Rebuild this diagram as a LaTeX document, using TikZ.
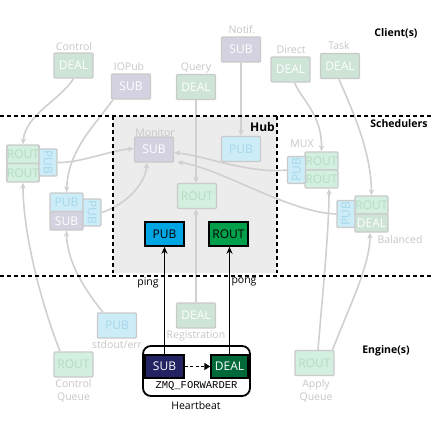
\documentclass[tikz,border=0pt]{standalone}
\usepackage{fontspec}
\setmainfont{Open Sans}
\newfontfamily\zmqmono{Liberation Mono}
\usetikzlibrary{arrows.meta}
\definecolor{fgray}{HTML}{CACACA}
\definecolor{conngray}{HTML}{D0D0D0}
\definecolor{lblgray}{HTML}{C6C6C6}
\definecolor{dealF}{HTML}{CDE4D6}
\definecolor{routF}{HTML}{D3EFDF}
\definecolor{routT}{HTML}{B5DCC4}
\definecolor{subF}{HTML}{D4D2E0}
\definecolor{pubF}{HTML}{CCECF8}
\definecolor{pubT}{HTML}{A6D7EB}
\definecolor{hubbg}{HTML}{EBECEB}
\definecolor{bpub}{HTML}{00A5E3}
\definecolor{brout}{HTML}{00A04A}
\definecolor{dsub}{HTML}{232262}
\definecolor{ddeal}{HTML}{00693A}
\tikzset{
 sock/.style={rectangle, draw=fgray, line width=1.4pt, rounded corners=1pt, minimum width=39pt, minimum height=25pt, inner sep=0pt, font=\fontsize{12}{12}\selectfont},
 fdeal/.style={sock, fill=dealF, text=white},
 frout/.style={sock, fill=routF, text=routT},
 fsub/.style={sock, fill=subF, text=white},
 fpub/.style={sock, fill=pubF, text=pubT},
 cellbox/.style={minimum width=33pt, minimum height=18.5pt},
 sidebox/.style={minimum width=27pt, minimum height=18pt},
 lbl/.style={text=lblgray, font=\fontsize{10.5}{13}\selectfont, inner sep=0pt, align=center},
 ttl/.style={font=\bfseries\fontsize{10.5}{11}\selectfont, inner sep=0pt},
 conn/.style={draw=conngray, line width=1.6pt, -{Stealth[length=6pt,width=5.5pt]}},
 hbarrow/.style={draw=black, line width=1.5pt, -{Stealth[length=7pt,width=6pt]}},
 sepline/.style={draw=black, line width=1.8pt, dash pattern=on 4pt off 3pt},
 bright/.style={rectangle, draw=black, line width=1.5pt, minimum width=39pt, minimum height=24pt, inner sep=0pt, font=\fontsize{12}{12}\selectfont},
}
\begin{document}
\begin{tikzpicture}[x=1pt,y=-1pt]
\useasboundingbox (0,0) rectangle (432,432);
% hub background
\fill[hubbg] (113,116) rectangle (277,273);

% top clients
\node[fdeal] (ctrl) at (73.5,65.5) {DEAL};
\node[lbl] (ctrlL) at (74,47) {Control};
\node[fsub] (iopub) at (131,86.5) {SUB};
\node[lbl] (iopubL) at (129,67) {IOPub};
\node[fdeal] (query) at (196,87) {DEAL};
\node[lbl] (queryL) at (196,68) {Query};
\node[fsub] (notif) at (241,49.5) {SUB};
\node[lbl] (notifL) at (242,30) {Notif.};
\node[fdeal] (direct) at (290.5,69.5) {DEAL};
\node[lbl] (directL) at (291,50) {Direct};
\node[fdeal] (task) at (340,66) {DEAL};
\node[lbl] (taskL) at (339,46) {Task};

% schedulers
\node[frout,cellbox,minimum width=32pt] (lr1) at (23,154.25) {ROUT};
\node[frout,cellbox,minimum width=32pt] (lr2) at (23,172.75) {ROUT};
\node[fpub,sidebox,rotate=-90] (lp) at (48,162.5) {PUB};

\node[fpub,cellbox] (sp1) at (66.5,202.25) {PUB};
\node[fsub,cellbox] (sp2) at (66.5,220.75) {SUB};
\node[fpub,sidebox,rotate=-90] (psp) at (92,212.5) {PUB};

\node[frout,cellbox,minimum height=18pt] (mr1) at (321.5,161) {ROUT};
\node[frout,cellbox,minimum height=18pt] (mr2) at (321.5,179) {ROUT};
\node[fpub,sidebox,rotate=90] (mp) at (296.5,170) {PUB};
\node[lbl] (muxL) at (302,144) {MUX};

\node[frout,cellbox,minimum height=18pt] (br1) at (371.5,205) {ROUT};
\node[fdeal,cellbox,minimum height=18pt] (br2) at (371.5,223) {DEAL};
\node[fpub,sidebox,rotate=90] (bp) at (346,214) {PUB};
\node[lbl] (balL) at (400,240) {Balanced};

% hub
\node[fsub] (monitor) at (154,149.5) {SUB};
\node[lbl] (monL) at (155,133) {Monitor};
\node[fpub] (hpub) at (241,149) {PUB};
\node[frout] (hrout) at (197,196) {ROUT};
\node[bright, fill=bpub] (hpubb) at (164.5,234) {PUB};
\node[bright, fill=brout] (hroutb) at (228.5,234) {ROUT};
\node[font=\bfseries\fontsize{12}{13}\selectfont, inner sep=0pt, anchor=east] (hubL) at (275,127) {Hub};

% engines
\node[fpub] (stdout) at (117,325.5) {PUB};
\node[lbl] (stdoutL) at (117,345) {stdout/err};
\node[fdeal] (reg) at (196,315.5) {DEAL};
\node[lbl] (regL) at (196,336) {Registration};
\node[frout] (ctrlq) at (73.5,364.5) {ROUT};
\node[lbl] (ctrlqL) at (73.5,391) {Control\\Queue};
\node[frout] (applyq) at (314.5,363) {ROUT};
\node[lbl] (applyqL) at (316,391) {Apply\\Queue};

% heartbeat
\node[draw=black, line width=1.8pt, rounded corners=8pt, fill=white, minimum width=107pt, minimum height=50pt, inner sep=0pt] (hbox) at (196.5,371) {};
\node[bright, fill=dsub, text=white, minimum height=23pt] (hbsub) at (164.5,366.5) {SUB};
\node[bright, fill=ddeal, text=white, minimum width=37pt, minimum height=23pt] (hbdeal) at (229.5,366.5) {DEAL};
\node[font=\zmqmono\fontsize{10.5}{11}\selectfont, inner sep=0pt] (zmq) at (196.5,386) {ZMQ\_FORWARDER};
\node[font=\fontsize{10.5}{11}\selectfont, inner sep=0pt] (hbL) at (196,406) {Heartbeat};

% titles
\node[ttl] (clientsT) at (396,33) {Client(s)};
\node[ttl] (schedT) at (399,124) {Schedulers};
\node[ttl] (engT) at (386,351) {Engine(s)};

% gray connectors
\draw[conn] (ctrl.south) .. controls (60,100) and (25,115) .. (lr1.north);
\draw[conn] ([xshift=-18pt]iopub.south) .. controls (95,125) and (68,150) .. (sp1.north);
\draw[conn] (query.south) -- (query.south |- hrout.north);
\draw[conn] (notif.south) -- (hpub.north);
\draw[conn] ([xshift=4pt]direct.south) .. controls (302,100) and (322,115) .. (mr1.north);
\draw[conn] ([xshift=-1pt]task.south) .. controls (352,110) and (371,150) .. (br1.north);
\draw[conn] (lp.north) .. controls (80,163) and (108,151) .. ([yshift=1pt]monitor.west);
\draw[conn] (psp.north) .. controls (125,205) and (145,185) .. ([xshift=-7pt]monitor.south);
\draw[conn] (mp.north) .. controls (250,174) and (205,156) .. ([yshift=-3pt]monitor.east);
\draw[conn] (bp.north) .. controls (290,213) and (220,168) .. ([xshift=3pt,yshift=-12.5pt]monitor.east);
\draw[conn] (reg.north) -- (reg.north |- hrout.south);
\draw[conn] ([xshift=-14pt]stdout.north) .. controls (85,290) and (67,262) .. (sp2.south);
\draw[conn] ([xshift=-13.5pt]ctrlq.north) .. controls (40,300) and (23,232) .. (lr2.south);
\draw[conn] ([xshift=3.5pt]applyq.north) .. controls (322,300) and (329,232) .. ([xshift=7.5pt]mr2.south);
\draw[conn] ([xshift=18pt]applyq.north) .. controls (350,305) and (370,265) .. ([xshift=-1.5pt]br2.south);

% heartbeat connectors
\draw[hbarrow] (hbsub.north) -- (hpubb.south);
\draw[hbarrow] (hbdeal.north) -- (hbdeal.north |- hroutb.south);
\draw[draw=black, line width=1.5pt, dash pattern=on 3pt off 2.5pt, -{Triangle[length=6pt,width=7pt]}] (hbsub.east) -- (hbdeal.west);
\node[font=\fontsize{10.5}{11}\selectfont, inner sep=0pt] (pingL) at (148,283) {ping};
\node[font=\fontsize{10.5}{11}\selectfont, inner sep=0pt] (pongL) at (244,282) {pong};

% separators
\draw[sepline] (0,116) -- (432,116);
\draw[sepline] (0,276) -- (432,276);
\draw[sepline] (113,116) -- (113,273);
\draw[sepline] (277,116) -- (277,273);
\end{tikzpicture}
\end{document}
